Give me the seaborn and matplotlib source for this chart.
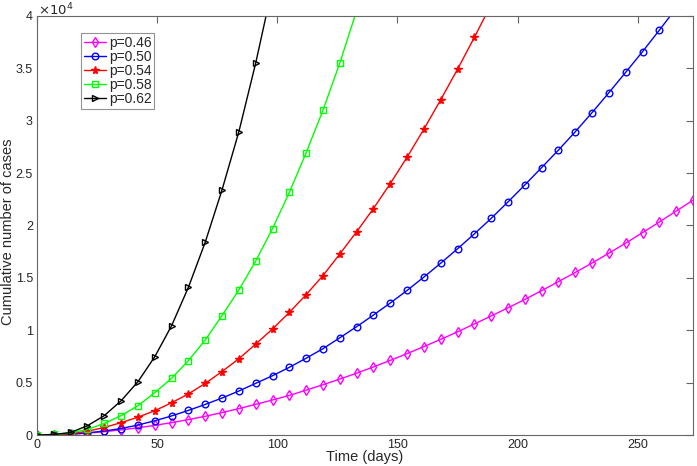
import numpy as np
import pandas as pd
import matplotlib
matplotlib.use("Agg")
import matplotlib.pyplot as plt
import seaborn as sns

# ---- data (cumulative cases) ----
days = list(range(0, 274, 7))
labels = ["p=0.46", "p=0.50", "p=0.54", "p=0.58", "p=0.62"]
p046 = [0, 20, 80, 180, 320, 490, 690, 920, 1180, 1470, 1790, 2140, 2520, 2930,
        3340, 3780, 4280, 4800, 5340, 5900, 6500, 7120, 7770, 8440, 9130, 9850,
        10600, 11360, 12140, 12940, 13780, 14640, 15520, 16420, 17360, 18320,
        19320, 20340, 21380, 22420]
p050 = [0, 20, 80, 200, 380, 620, 950, 1360, 1820, 2350, 2920, 3530, 4200, 4930,
        5660, 6460, 7330, 8240, 9280, 10340, 11450, 12600, 13800, 15080, 16400,
        17780, 19200, 20680, 22250, 23870, 25530, 27200, 28950, 30780, 32680,
        34630, 36600, 38650, 40750]
p054 = [0, 30, 120, 360, 720, 1180, 1700, 2320, 3080, 3920, 4930, 6060, 7280,
        8680, 10120, 11700, 13400, 15220, 17280, 19400, 21620, 24000, 26520,
        29200, 32000, 34920, 37960, 41100]
p058 = [0, 50, 200, 540, 1100, 1850, 2800, 4040, 5410, 7100, 9070, 11400, 13840,
        16600, 19700, 23150, 26950, 31000, 35500, 40500]
p062 = [0, 50, 240, 890, 1850, 3270, 5090, 7470, 10430, 14100, 18400, 23400,
        28950, 35500, 42800]

series = [p046, p050, p054, p058, p062]
colors = ["#FF00FF", "#0000FF", "#FF0000", "#00FF00", "#000000"]
markers = ["d", "o", "*", "s", ">"]
msizes = [5.5, 4.8, 5.8, 4.0, 4.8]

sns.set_style("white")
plt.rcParams["font.family"] = ["Liberation Sans", "DejaVu Sans"]
plt.rcParams["axes.edgecolor"] = "#666666"
plt.rcParams["axes.linewidth"] = 0.8

fig = plt.figure(figsize=(6.97, 4.66), dpi=100)
ax = fig.add_axes([0.0531, 0.0665, 0.9412, 0.8992])

for vals, lab, c, m, ms in zip(series, labels, colors, markers, msizes):
    df = pd.DataFrame({"t": days[:len(vals)], "v": vals})
    face = c if m == "*" else "none"
    sns.lineplot(data=df, x="t", y="v", ax=ax, color=c, marker=m,
                 markersize=ms, markerfacecolor=face, markeredgecolor=c,
                 markeredgewidth=1.0, linewidth=1.0, label=lab, legend=False)

ax.set_xlim(0, 273)
ax.set_ylim(0, 40000)
ax.set_xticks([0, 50, 100, 150, 200, 250])
ax.set_yticks(np.arange(0, 40001, 5000))
ax.set_yticklabels(["0", "0.5", "1", "1.5", "2", "2.5", "3", "3.5", "4"])
ax.tick_params(direction="in", length=5, width=0.8, color="#666666",
               top=True, right=True, labelsize=9, pad=3)
ax.set_xlabel("Time (days)", fontsize=10.5)
ax.set_ylabel("Cumulative number of cases", fontsize=10.5)
ax.xaxis.set_label_coords(0.5, -0.036)
ax.xaxis.label.set_va("top")
ax.yaxis.set_label_coords(-0.034, 0.484)
fig.text(0.0545, 0.978, r"$\times10^{4}$", fontsize=9.5, ha="left", va="center")
for s in ax.spines.values():
    s.set_visible(True)

leg = ax.legend(loc="upper left", bbox_to_anchor=(0.067, 0.959), fontsize=10,
                frameon=True, fancybox=False, edgecolor="#777777",
                handlelength=1.6, handletextpad=0.2, borderpad=0.2,
                labelspacing=0.0, borderaxespad=0)
leg.get_frame().set_linewidth(0.8)

fig.savefig("out.png", dpi=100)
